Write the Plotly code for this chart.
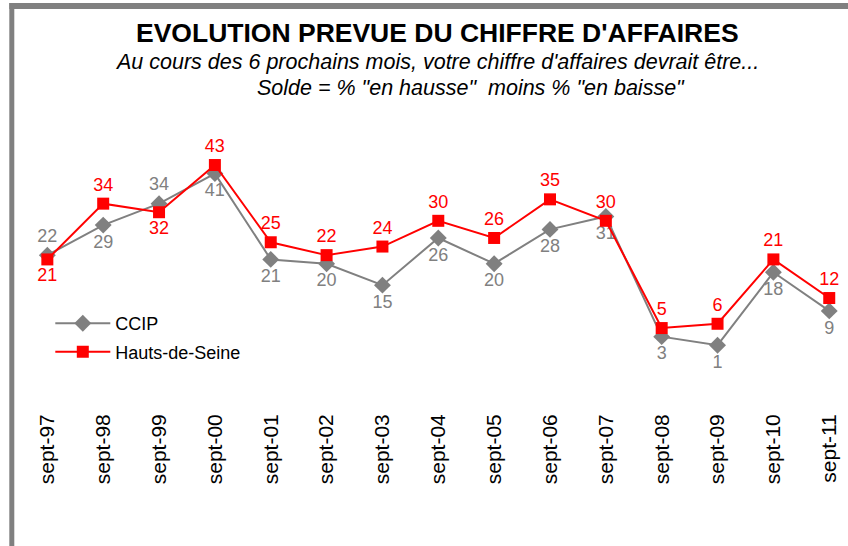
import plotly.graph_objects as go

categories = ["sept-97", "sept-98", "sept-99", "sept-00", "sept-01", "sept-02", "sept-03",
              "sept-04", "sept-05", "sept-06", "sept-07", "sept-08", "sept-09", "sept-10", "sept-11"]
ccip = [22, 29, 34, 41, 21, 20, 15, 26, 20, 28, 31, 3, 1, 18, 9]
hauts = [21, 34, 32, 43, 25, 22, 24, 30, 26, 35, 30, 5, 6, 21, 12]
ccip_pos = ["top center", "bottom center", "top center"] + ["bottom center"] * 12
hauts_pos = ["bottom center", "top center", "bottom center"] + ["top center"] * 12

W, H = 848, 546
L, R, T, B = 24.7, 2.2, 134.9, 145.1
PW, PH = W - L - R, H - T - B

def px_x(px):
    return (px - L) / PW

def px_y(py):
    return (H - B - py) / PH

GRAY = "#808080"
RED = "#FF0000"
FONT = "Liberation Sans, Arial, sans-serif"

fig = go.Figure()
fig.add_trace(go.Scatter(
    x=categories, y=ccip, name="CCIP", mode="lines+markers+text", legendgroup="a",
    line=dict(color=GRAY, width=2),
    marker=dict(symbol="diamond", size=13, color=GRAY),
    text=[str(v) for v in ccip], textposition=ccip_pos,
    textfont=dict(color=GRAY, size=18, family=FONT),
))
fig.add_trace(go.Scatter(
    x=categories, y=hauts, name="Hauts-de-Seine", mode="lines+markers+text", legendgroup="b",
    line=dict(color=RED, width=2),
    marker=dict(symbol="square", size=12, color=RED),
    text=[str(v) for v in hauts], textposition=hauts_pos,
    textfont=dict(color=RED, size=18, family=FONT),
))

annotations = [
    dict(text="<b>EVOLUTION PREVUE DU CHIFFRE D'AFFAIRES</b>", x=px_x(437), y=px_y(33),
         font=dict(size=26.5, color="black", family=FONT)),
    dict(text="<i>Au cours des 6 prochains mois, votre chiffre d'affaires devrait être...</i>",
         x=px_x(437), y=px_y(62), font=dict(size=21.5, color="black", family=FONT)),
    dict(text="<i>Solde = % \"en hausse\"  moins % \"en baisse\"</i>",
         x=px_x(471), y=px_y(88), font=dict(size=21.5, color="black", family=FONT)),
]
for a in annotations:
    a.update(xref="paper", yref="paper", showarrow=False, xanchor="center", yanchor="middle")

shapes = [
    dict(type="rect", xref="paper", yref="paper", x0=px_x(9), x1=px_x(860), y0=px_y(9), y1=px_y(3),
         fillcolor=GRAY, line=dict(width=0), layer="above"),
    dict(type="rect", xref="paper", yref="paper", x0=px_x(9), x1=px_x(14), y0=px_y(560), y1=px_y(3),
         fillcolor=GRAY, line=dict(width=0), layer="above"),
]

fig.update_layout(
    width=W, height=H,
    margin=dict(l=L, r=R, t=T, b=B, autoexpand=False),
    paper_bgcolor="white", plot_bgcolor="white",
    font=dict(family=FONT, color="black"),
    showlegend=True,
    legend=dict(x=px_x(50), y=px_y(305), xanchor="left", yanchor="top",
                font=dict(size=18, color="black", family=FONT),
                bgcolor="rgba(0,0,0,0)", tracegroupgap=2, itemwidth=55),
    annotations=annotations,
    shapes=shapes,
    xaxis=dict(type="category", range=[-0.4, 14.3], showgrid=False, zeroline=False,
               showline=False, ticks="", tickangle=-90, ticklabelstandoff=8,
               tickfont=dict(size=21, color="black", family=FONT)),
    yaxis=dict(range=[-12, 50], showgrid=False, zeroline=False, showline=False,
               showticklabels=False, ticks=""),
)

fig.write_html("out.html", config={"displayModeBar": False},
               post_script="document.body.style.margin='0';document.body.style.padding='0';")
